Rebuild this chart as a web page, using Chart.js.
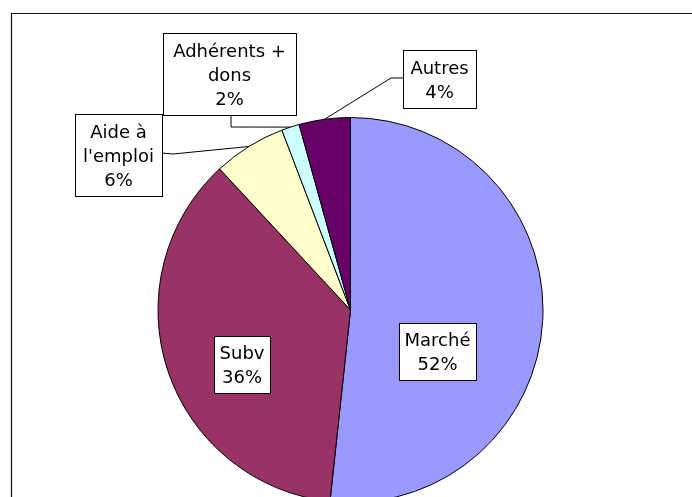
<!DOCTYPE html>
<html>
<head>
<meta charset="utf-8">
<script src="https://cdn.jsdelivr.net/npm/chart.js@4"></script>
<style>
    html, body { margin: 0; padding: 0; background: #fff; overflow: hidden; }
    #wrap { position: relative; width: 692px; height: 497px; overflow: hidden; }
    #budgetChart { position: absolute; left: 0; top: 0; }
</style>
</head>
<body>
<div id="wrap"><canvas id="budgetChart" width="692" height="520"></canvas></div>
<script>
// Values (shares of the budget, in %)
const categories = [['Marché'], ['Subv'], ['Aide à', "l'emploi"], ['Adhérents +', 'dons'], ['Autres']];
const shares = [51.7, 36.4, 6.1, 1.5, 4.3];
const sliceColors = ['#9999FF', '#993366', '#FFFFCC', '#CCFFFF', '#660066'];

// where each label box sits, and the bend of its leader line (null = no leader)
const labelBoxes = [
    { x: 399, y: 323, w: 77, h: 57, leader: null },
    { x: 214, y: 336, w: 56, h: 57, leader: null },
    { x: 75, y: 114, w: 87, h: 82, leader: [[162, 153], [173, 154]] },
    { x: 163, y: 33, w: 133, h: 82, leader: [[231, 115], [231, 127]] },
    { x: 403, y: 50, w: 73, h: 58, leader: [[403, 78], [391, 78]] }
];

const FONT = '18px "DejaVu Sans", Verdana, sans-serif';
const LINE_H = 24;

const pieLabels = {
    id: 'pieLabels',
    beforeDraw(chart) {
        // outer frame of the original chart
        const ctx = chart.ctx;
        ctx.save();
        ctx.strokeStyle = '#111';
        ctx.lineWidth = 1.2;
        ctx.beginPath();
        ctx.moveTo(11.5, 600);
        ctx.lineTo(11.5, 13.5);
        ctx.lineTo(700, 13.5);
        ctx.stroke();
        ctx.restore();
    },
    afterDraw(chart) {
        const ctx = chart.ctx;
        const meta = chart.getDatasetMeta(0);
        const total = shares.reduce((a, b) => a + b, 0);
        ctx.save();
        ctx.font = FONT;
        ctx.textAlign = 'center';
        ctx.textBaseline = 'middle';
        meta.data.forEach((arc, i) => {
            const box = labelBoxes[i];
            // leader line to the middle of the slice edge
            if (box.leader) {
                const mid = (arc.startAngle + arc.endAngle) / 2;
                const ex = arc.x + Math.cos(mid) * arc.outerRadius;
                const ey = arc.y + Math.sin(mid) * arc.outerRadius;
                ctx.strokeStyle = '#000';
                ctx.lineWidth = 1;
                ctx.beginPath();
                ctx.moveTo(box.leader[0][0], box.leader[0][1]);
                ctx.lineTo(box.leader[1][0], box.leader[1][1]);
                ctx.lineTo(ex, ey);
                ctx.stroke();
            }
            ctx.fillStyle = '#fff';
            ctx.fillRect(box.x, box.y, box.w, box.h);
            ctx.strokeStyle = '#000';
            ctx.lineWidth = 1;
            ctx.strokeRect(box.x + 0.5, box.y + 0.5, box.w, box.h);

            const lines = categories[i].concat([Math.round(shares[i] / total * 100) + '%']);
            const cx = box.x + box.w / 2;
            const cy = box.y + box.h / 2 + 2;
            ctx.fillStyle = '#000';
            lines.forEach((txt, k) => {
                ctx.fillText(txt, cx, cy + (k - (lines.length - 1) / 2) * LINE_H);
            });
        });
        ctx.restore();
    }
};

new Chart(document.getElementById('budgetChart'), {
    type: 'pie',
    data: {
        labels: categories,
        datasets: [{
            data: shares,
            backgroundColor: sliceColors,
            borderColor: '#000',
            borderWidth: 1,
            hoverOffset: 0
        }]
    },
    options: {
        responsive: false,
        animation: false,
        layout: {
            padding: { left: 157, right: 148, top: 117, bottom: 17 }
        },
        plugins: {
            legend: { display: false },
            tooltip: { enabled: false }
        }
    },
    plugins: [pieLabels]
});
</script>
</body>
</html>
